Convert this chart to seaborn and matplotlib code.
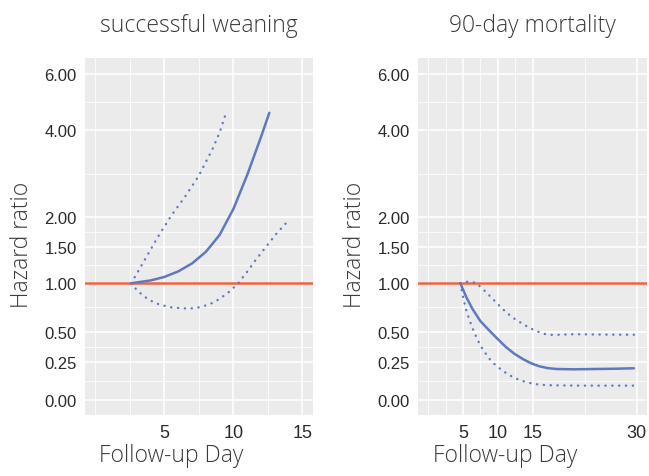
import numpy as np
import seaborn as sns
import matplotlib
matplotlib.use("Agg")
import matplotlib.pyplot as plt

# valores (dia de seguimento, hazard ratio)
wean_day = [2.6, 3.3, 4.0, 4.5, 5.0, 5.5, 6.0, 6.5, 7.0, 7.5, 8.0, 8.5, 9.0, 9.5, 10.0, 10.5,
            11.0, 11.5, 12.0, 12.6]
wean_hr = [1.00, 1.019, 1.038, 1.062, 1.086, 1.124, 1.161, 1.216, 1.270, 1.349, 1.428, 1.554,
           1.699, 1.920, 2.190, 2.580, 2.969, 3.404, 3.840, 4.607]
wean_up_day = [2.6, 3.5, 4.5, 5.5, 6.5, 7.5, 8.5, 9.0, 9.44]
wean_up_hr = [1.00, 1.295, 1.653, 2.037, 2.472, 2.953, 3.572, 3.938, 4.571]
wean_lo_day = [2.6, 3.0, 3.5, 4.0, 4.65, 5.5, 6.35, 7.0, 7.55, 8.3, 9.0, 9.7, 10.35, 11.0,
               11.67, 12.4, 13.1, 14.09]
wean_lo_hr = [1.00, 0.929, 0.867, 0.820, 0.779, 0.751, 0.740, 0.741, 0.752, 0.784, 0.838,
              0.913, 1.00, 1.158, 1.332, 1.509, 1.716, 1.971]

mort_day = [4.6, 5.5, 6.35, 7.5, 8.8, 10.0, 11.2, 12.4, 13.6, 14.8, 16.0, 17.2, 18.5, 21, 24,
            27, 29.6]
mort_hr = [1.00, 0.851, 0.735, 0.608, 0.510, 0.439, 0.373, 0.319, 0.277, 0.243, 0.223, 0.211,
           0.205, 0.203, 0.205, 0.207, 0.210]
mort_up_day = [4.6, 5.2, 5.8, 6.4, 6.9, 7.8, 8.8, 10.0, 11.2, 12.4, 13.6, 14.8, 16.0, 17.0,
               18.0, 20.9, 24, 28, 29.6]
mort_up_hr = [1.00, 1.016, 1.022, 1.015, 1.00, 0.944, 0.872, 0.784, 0.700, 0.634, 0.579,
              0.531, 0.495, 0.477, 0.473, 0.479, 0.477, 0.475, 0.475]
mort_lo_day = [4.6, 5.0, 5.4, 5.9, 6.4, 7.1, 7.8, 8.7, 9.75, 11.0, 12.2, 13.4, 14.6, 16.0,
               18.0, 22, 29.6]
mort_lo_hr = [1.00, 0.856, 0.735, 0.624, 0.528, 0.431, 0.359, 0.284, 0.227, 0.184, 0.150,
              0.127, 0.112, 0.100, 0.096, 0.094, 0.094]

hr_breaks = [0, 0.25, 0.5, 1, 1.5, 2, 4, 6]
titles = ["successful weaning", "90-day mortality"]

# escala do eixo y (posição de cada quebra no painel)
hr_knots = np.array([-1] + hr_breaks + [10])
pos_knots = np.array([-149.6, 0, 37.4, 68, 116.4, 153, 182.4, 269.7, 325.7, 437.7])


def fwd(v):
    return np.interp(v, hr_knots, pos_knots)


def inv(p):
    return np.interp(p, pos_knots, hr_knots)


sns.set_theme(style="darkgrid", rc={"axes.facecolor": "#EBEBEB"})
plt.rcParams["font.family"] = ["Liberation Sans", "DejaVu Sans"]

fig = plt.figure(figsize=(6.49, 4.77), dpi=100)
ax1 = fig.add_axes([0.131, 0.127, 0.351, 0.7485])
ax2 = fig.add_axes([0.644, 0.127, 0.353, 0.7485])

azul = "#6078bf"
vermelho = "#ef6440"
pontilhado = (0, (0.1, 2.8))
fonte_leve = dict(fontsize=16.5, family=["Open Sans", "DejaVu Sans"], fontweight="light",
                  color="#3a3a3a")

paineis = [
    (ax1, (wean_day, wean_hr), (wean_up_day, wean_up_hr), (wean_lo_day, wean_lo_hr),
     [5, 10, 15], [0, 2.5, 7.5, 12.5], (-0.75, 15.75)),
    (ax2, (mort_day, mort_hr), (mort_up_day, mort_up_hr), (mort_lo_day, mort_lo_hr),
     [5, 10, 15, 30], [0, 2.5, 7.5, 12.5, 22.5], (-1.5, 31.5)),
]

for i, (ax, est, sup, inf, xt, xm, xl) in enumerate(paineis):
    ax.set_yscale("function", functions=(fwd, inv))
    ax.axhline(1, color=vermelho, lw=1.8, zorder=2)
    sns.lineplot(x=sup[0], y=sup[1], ax=ax, color=azul, lw=1.7, linestyle=pontilhado,
                 dash_capstyle="round", estimator=None, sort=False, zorder=3)
    sns.lineplot(x=inf[0], y=inf[1], ax=ax, color=azul, lw=1.7, linestyle=pontilhado,
                 dash_capstyle="round", estimator=None, sort=False, zorder=3)
    sns.lineplot(x=est[0], y=est[1], ax=ax, color=azul, lw=1.8,
                 estimator=None, sort=False, zorder=4)

    ax.set_xlim(*xl)
    ax.set_ylim(-0.105, 6.55)
    ax.set_xticks(xt)
    ax.set_xticks(xm, minor=True)
    ax.set_yticks(hr_breaks)
    ax.set_yticklabels([f"{v:.2f}" for v in hr_breaks])
    mids = inv((pos_knots[1:-2] + pos_knots[2:-1]) / 2)
    ax.set_yticks(mids, minor=True)

    ax.grid(which="major", color="white", lw=1.1)
    ax.grid(which="minor", color="white", lw=0.55)
    ax.tick_params(which="major", length=4, width=1, color="#333333", pad=2)
    ax.tick_params(which="minor", length=0)
    ax.tick_params(axis="y", labelsize=12, labelcolor="#2b2b2b")
    ax.tick_params(axis="x", labelsize=13, labelcolor="#2b2b2b")
    for s in ax.spines.values():
        s.set_visible(False)

    ax.set_title(titles[i], pad=20, **fonte_leve)
    ax.set_xlabel("Follow-up Day", **fonte_leve)
    ax.set_ylabel("Hazard ratio", **fonte_leve)
    ax.xaxis.set_label_coords(0.38, -0.111)
    ax.xaxis.label.set_va("center")
    ax.yaxis.set_label_coords(-0.276, 0.48)
    ax.yaxis.label.set_va("center")

fig.savefig("out.png", dpi=100)
